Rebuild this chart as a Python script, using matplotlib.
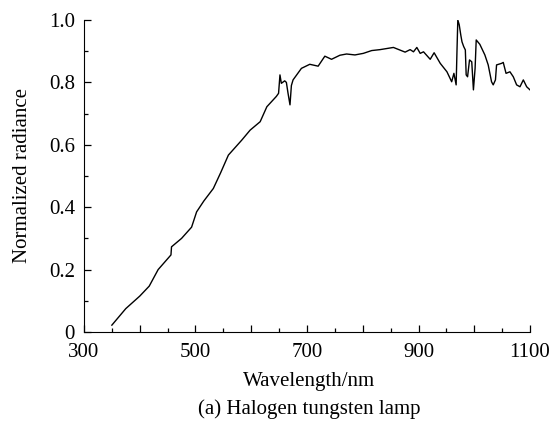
import matplotlib.pyplot as plt
from matplotlib.ticker import MultipleLocator, FuncFormatter

plt.rcParams['font.family'] = ['Liberation Serif', 'DejaVu Serif']

wavelength = [350, 375, 400, 417, 433, 456, 457, 475, 493, 502, 515, 532, 545, 559,
              583, 598, 616, 628, 645, 649, 651.5, 654, 660, 663, 666, 669.5, 672,
              675, 690, 705, 720, 732, 744, 759, 771, 786, 801, 816, 831, 855, 876,
              885, 891, 897, 903, 909, 921, 928, 939, 951, 959.5, 963.5, 967.5,
              969, 970.5, 973, 976, 978, 981, 984, 985.5, 988, 991.5, 995.5, 998.5,
              1001.5, 1003.5, 1010, 1019, 1025, 1031, 1034, 1038, 1040, 1049, 1052,
              1057, 1064, 1070, 1076, 1082, 1088, 1094, 1100]
radiance = [0.022, 0.075, 0.115, 0.147, 0.200, 0.247, 0.273, 0.300, 0.336, 0.385,
            0.420, 0.460, 0.510, 0.567, 0.615, 0.647, 0.674, 0.722, 0.755, 0.765,
            0.824, 0.797, 0.805, 0.800, 0.765, 0.728, 0.790, 0.808, 0.845, 0.858,
            0.852, 0.884, 0.874, 0.887, 0.891, 0.888, 0.893, 0.902, 0.905, 0.912,
            0.897, 0.905, 0.898, 0.912, 0.893, 0.898, 0.874, 0.895, 0.861, 0.834,
            0.802, 0.829, 0.792, 0.900, 1.000, 0.985, 0.950, 0.930, 0.915, 0.904,
            0.824, 0.818, 0.872, 0.866, 0.776, 0.845, 0.936, 0.922, 0.888, 0.856,
            0.802, 0.792, 0.808, 0.856, 0.861, 0.864, 0.829, 0.834, 0.818, 0.792,
            0.786, 0.808, 0.786, 0.776]

fig = plt.figure(figsize=(5.54, 4.28), dpi=100)
ax = fig.add_axes([0.1516, 0.2243, 0.8051, 0.729])
ax.plot(wavelength, radiance, color='black', lw=1.0)

ax.set_xlim(300, 1100)
ax.set_ylim(0, 1.0)
ax.spines['top'].set_visible(False)
ax.spines['right'].set_visible(False)

ax.xaxis.set_major_locator(MultipleLocator(100))
ax.xaxis.set_minor_locator(MultipleLocator(50))
ax.xaxis.set_major_formatter(FuncFormatter(lambda v, p: '%d' % v if int(round(v)) % 200 == 100 else ''))
ax.yaxis.set_major_locator(MultipleLocator(0.2))
ax.yaxis.set_minor_locator(MultipleLocator(0.1))
ax.yaxis.set_major_formatter(FuncFormatter(lambda v, p: '0' if v == 0 else '%.1f' % v))
ax.tick_params(which='major', direction='in', length=5, width=0.9, labelsize=15)
ax.tick_params(which='minor', direction='in', length=3, width=0.9)
ax.tick_params(axis='x', which='major', pad=8)
ax.tick_params(axis='y', which='major', pad=6.5)

ax.set_ylabel('Normalized radiance', fontsize=15, labelpad=12)
fig.text(0.5577, 0.108, 'Wavelength/nm', ha='center', va='center', fontsize=15)
fig.text(0.5577, 0.045, '(a) Halogen tungsten lamp', ha='center', va='center', fontsize=15)

fig.savefig('out.png', dpi=100)
